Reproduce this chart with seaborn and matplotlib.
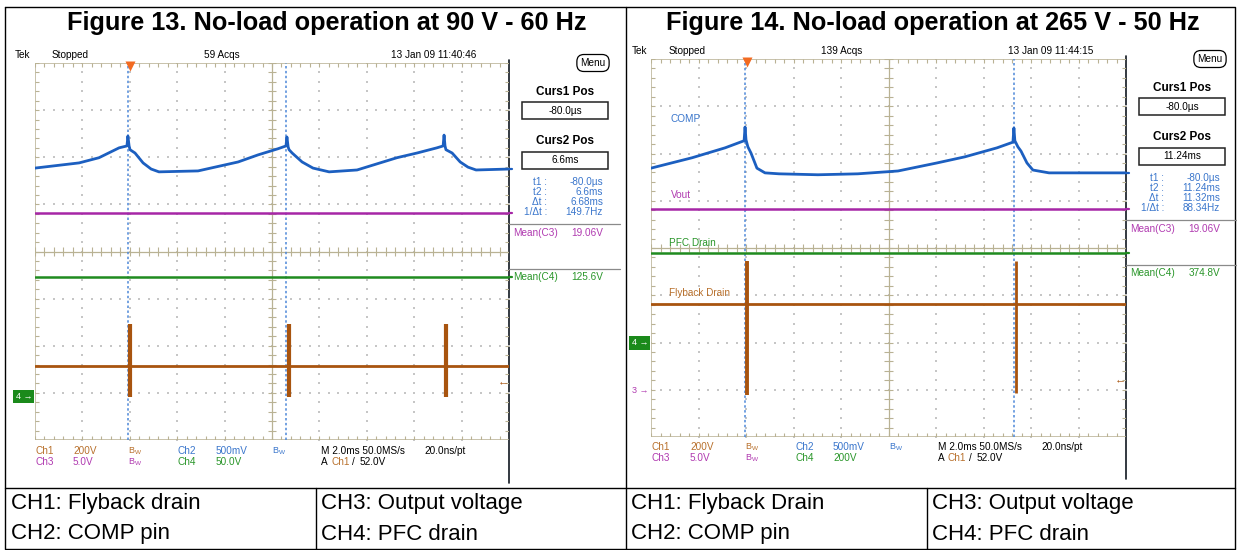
import numpy as np
import pandas as pd
import matplotlib
matplotlib.use('Agg')
import matplotlib.pyplot as plt
import matplotlib.transforms as mtransforms
from matplotlib.patches import Rectangle
import seaborn as sns

sns.set_theme(style='white')
plt.rcParams['font.family'] = ['Liberation Sans', 'DejaVu Sans']
plt.rcParams['axes.unicode_minus'] = False

W, H = 1237, 550

# Telas do osciloscopio: tempo em ms (2 ms/div, 10 div), amplitude em divisoes (-4 a 4)
tempo_tela = [0, 20]

# Figure 13 - 90 V / 60 Hz
f13_comp_t = [0.00, 1.86, 2.70, 3.55, 3.88, 3.92, 3.97, 4.01, 4.22, 4.56, 4.90, 5.23,
              6.88, 8.57, 9.41, 10.25, 10.59, 10.63, 10.68, 10.72, 10.85, 11.27, 11.73,
              12.41, 13.59, 15.27, 16.12, 16.96, 17.22, 17.26, 17.30, 17.34, 17.60,
              17.94, 18.27, 18.61, 20.00]
f13_comp_div = [1.77, 1.88, 1.99, 2.20, 2.24, 2.45, 2.24, 2.16, 2.09, 1.88, 1.75, 1.69,
                1.71, 1.90, 2.05, 2.18, 2.24, 2.43, 2.22, 2.16, 2.09, 1.90, 1.77,
                1.69, 1.73, 1.99, 2.09, 2.20, 2.24, 2.47, 2.24, 2.16, 2.09,
                1.90, 1.79, 1.73, 1.75]
f13_vout_div = 0.81
f13_pfc_div = -0.55
f13_flyback_div = -2.43
f13_spike_t = [4.01, 10.72, 17.34]
f13_spike_top = [-1.54, -1.54, -1.54]
f13_spike_bottom = [-3.09, -3.09, -3.09]
f13_curs1 = 3.92
f13_delta = 6.68
f13_ref4 = -3.08
f13_trig = -2.76

# Figure 14 - 265 V / 50 Hz
f14_comp_t = [0.00, 1.73, 3.12, 3.92, 3.96, 4.00, 4.08, 4.21, 4.46, 4.80, 5.39, 7.03,
              8.71, 10.40, 12.04, 13.22, 14.57, 15.24, 15.28, 15.32, 15.45, 15.58,
              15.83, 16.08, 16.76, 20.00]
f14_comp_div = [1.69, 1.91, 2.12, 2.27, 2.56, 2.29, 2.14, 2.01, 1.69, 1.59, 1.57, 1.55,
                1.57, 1.63, 1.80, 1.93, 2.12, 2.24, 2.54, 2.27, 2.14, 2.05,
                1.80, 1.65, 1.59, 1.59]
f14_vout_div = 0.83
f14_pfc_div = -0.11
f14_flyback_div = -1.19
f14_spike_t = [4.04, 15.36]
f14_spike_top = [-0.28, -0.28]
f14_spike_bottom = [-3.11, -3.07]
f14_curs1 = 3.96
f14_delta = 11.32
f14_ref4 = -2.01
f14_ref3 = -3.02
f14_trig = -2.77

# textos das telas
f13_header = ['Tek', 'Stopped', '59 Acqs', '13 Jan 09 11:40:46']
f14_header = ['Tek', 'Stopped', '139 Acqs', '13 Jan 09 11:44:15']
f13_cursores = ['-80.0µs', '6.6ms', '-80.0µs', '6.6ms', '6.68ms', '149.7Hz']
f14_cursores = ['-80.0µs', '11.24ms', '-80.0µs', '11.24ms', '11.32ms', '88.34Hz']
f13_medias = ['19.06V', '125.6V']
f14_medias = ['19.06V', '374.8V']
f13_escalas = ['200V', '500mV', '5.0V', '50.0V']
f14_escalas = ['200V', '500mV', '5.0V', '200V']
titulos = ['Figure 13. No-load operation at 90 V - 60 Hz',
           'Figure 14. No-load operation at 265 V - 50 Hz']
legenda_esq = ['CH1: Flyback drain', 'CH2: COMP pin', 'CH3: Output voltage', 'CH4: PFC drain']
legenda_dir = ['CH1: Flyback Drain', 'CH2: COMP pin', 'CH3: Output voltage', 'CH4: PFC drain']

COR_CH1, COR_CH2, COR_CH3, COR_CH4 = '#a8540f', '#1c5fc0', '#a626a6', '#1f8b1f'
TXT_CH1, TXT_CH2, TXT_CH3, TXT_CH4 = '#b8702c', '#3a76cc', '#b03ab0', '#2a962a'
GRAT = '#b9b294'
PONTO = '#c6c6c6'
CURSOR = '#4d88d8'


def graticula(ax):
    # grade pontilhada a cada divisao, pontos a cada 1/5 div
    gy = np.linspace(-4, 4, 41)
    gx = np.linspace(0, 20, 51)
    for k in [2, 4, 6, 8, 12, 14, 16, 18]:
        ax.scatter(np.full(gy.size, k), gy, s=1.2, color=PONTO, marker='s', linewidths=0, zorder=1)
    for k in [-3, -2, -1, 1, 2, 3]:
        ax.scatter(gx, np.full(gx.size, k), s=1.2, color=PONTO, marker='s', linewidths=0, zorder=1)
    ax.plot([0, 0, 20], [-4, 4, 4], color=GRAT, lw=1.1, zorder=1)
    ax.plot([0, 20], [-4, -4], color=GRAT, lw=1.1, zorder=1)
    ax.plot([10, 10], [-4, 4], color=GRAT, lw=0.9, zorder=1)
    ax.plot([0, 20], [0, 0], color=GRAT, lw=0.9, zorder=1)
    hx, hy = 0.17, 0.085
    ax.vlines(gx, 4 - hy, 4, color=GRAT, lw=0.8, zorder=1)
    ax.vlines(gx, -4, -4 + hy, color=GRAT, lw=0.8, zorder=1)
    ax.vlines(gx, -hy, hy, color=GRAT, lw=0.8, zorder=1)
    ax.hlines(gy, 0, hx, color=GRAT, lw=0.8, zorder=1)
    ax.hlines(gy, 20 - hx, 20, color=GRAT, lw=0.8, zorder=1)
    ax.hlines(gy, 10 - hx, 10 + hx, color=GRAT, lw=0.8, zorder=1)


def tela(fig, caixa, comp_t, comp_div, vout, pfc, flyback, spk_t, spk_top, spk_bot, spk_lw,
         curs1, delta, trig):
    x0, y0, x1, y1 = caixa
    ax = fig.add_axes([x0 / W, 1 - y1 / H, (x1 - x0) / W, (y1 - y0) / H])
    ax.set_xlim(0, 20)
    ax.set_ylim(-4, 4)
    ax.axis('off')
    graticula(ax)

    # cursores
    ax.vlines([curs1, curs1 + delta], -4, 4, colors=CURSOR, lw=1.1,
              linestyles=(0, (1.6, 1.6)), zorder=2)
    ax.plot(curs1 + 0.08, 3.93, marker='v', color='#f26a21', ms=7, mec='none',
            clip_on=False, zorder=6)

    # canais
    sns.lineplot(x=tempo_tela, y=[pfc, pfc], ax=ax, color=COR_CH4, linewidth=1.8, zorder=3)
    sns.lineplot(x=tempo_tela, y=[vout, vout], ax=ax, color=COR_CH3, linewidth=1.8, zorder=3)
    sns.lineplot(x=tempo_tela, y=[flyback, flyback], ax=ax, color=COR_CH1, linewidth=2.0, zorder=3)
    ax.vlines(spk_t, spk_bot, spk_top, colors=COR_CH1, lw=spk_lw, zorder=4)
    sns.lineplot(x=comp_t, y=comp_div, ax=ax, color=COR_CH2, linewidth=2.0,
                 sort=False, estimator=None, zorder=5)

    # marcas de nivel na borda direita
    for nivel, cor in [(comp_div[-1], COR_CH2), (vout, COR_CH3), (pfc, COR_CH4)]:
        ax.plot([20, 20.14], [nivel, nivel], color=cor, lw=1.6, clip_on=False, zorder=6)

    # seta do nivel de trigger
    ax.text(19.75, trig, '←', color=COR_CH1, fontsize=8, ha='center', va='center', zorder=6)
    ax.set_xlabel('')
    ax.set_ylabel('')
    return ax


fig = plt.figure(figsize=(W / 100, H / 100), dpi=100)
bg = fig.add_axes([0, 0, 1, 1])
bg.set_xlim(0, W)
bg.set_ylim(H, 0)
bg.axis('off')


def txt(x, y, s, cor='black', size=7.2, **kw):
    bg.text(x, y, s, color=cor, fontsize=size, va='center', **kw)


# tabela externa
bg.plot([5, 1235, 1235, 5, 5], [7, 7, 549, 549, 7], color='black', lw=1.0)
bg.plot([626, 626], [7, 549], color='black', lw=1.0)
bg.plot([5, 1235], [488, 488], color='black', lw=1.0)
bg.plot([316, 316], [488, 549], color='black', lw=1.0)
bg.plot([927, 927], [488, 549], color='black', lw=1.0)

txt(327, 23, titulos[0], size=18.2, weight='bold', ha='center')
txt(933, 23, titulos[1], size=18.2, weight='bold', ha='center')

for (xa, xb), leg in [((11, 321), legenda_esq), ((631, 932), legenda_dir)]:
    txt(xa, 504, leg[0], size=16)
    txt(xa, 534, leg[1], size=16)
    txt(xb, 504, leg[2], size=16)
    txt(xb, 534, leg[3], size=16)

# telas
ax13 = tela(fig, (35, 63, 509, 440), f13_comp_t, f13_comp_div, f13_vout_div, f13_pfc_div,
            f13_flyback_div, f13_spike_t, f13_spike_top, f13_spike_bottom, 3.0,
            f13_curs1, f13_delta, f13_trig)
ax14 = tela(fig, (651, 59, 1126, 437), f14_comp_t, f14_comp_div, f14_vout_div, f14_pfc_div,
            f14_flyback_div, f14_spike_t, f14_spike_top, f14_spike_bottom, [2.8, 2.0],
            f14_curs1, f14_delta, f14_trig)

# marcadores de referencia a esquerda
for ax, nivel in [(ax13, f13_ref4), (ax14, f14_ref4)]:
    tr = mtransforms.blended_transform_factory(ax.transAxes, ax.transData)
    ax.text(-0.006, nivel, '4 →', transform=tr, ha='right', va='center', color='white',
            fontsize=6.5, clip_on=False,
            bbox=dict(boxstyle='square,pad=0.25', fc='#1b8a1b', ec='none'))
tr14 = mtransforms.blended_transform_factory(ax14.transAxes, ax14.transData)
ax14.text(-0.006, f14_ref3, '3 →', transform=tr14, ha='right', va='center', color=TXT_CH3,
          fontsize=6.5, clip_on=False)

# rotulos dos canais na figura 14
ax14.text(0.84, 2.73, 'COMP', color=TXT_CH2, fontsize=7.2, va='center')
ax14.text(0.84, 1.12, 'Vout', color=TXT_CH3, fontsize=7.2, va='center')
ax14.text(0.76, 0.11, 'PFC Drain', color=TXT_CH4, fontsize=7.2, va='center')
ax14.text(0.76, -0.95, 'Flyback Drain', color=TXT_CH1, fontsize=7.2, va='center')

BW = r'$\mathregular{B_W}$'

for dx, dy, xr, header, curs, medias, esc in [
        (0, 0, 509, f13_header, f13_cursores, f13_medias, f13_escalas),
        (617, -4, 1126, f14_header, f14_cursores, f14_medias, f14_escalas)]:
    # cabecalho
    txt(15 + dx, 55 + dy, header[0])
    txt(52 + dx, 55 + dy, header[1])
    txt(204 + dx, 55 + dy, header[2])
    txt(391 + dx, 55 + dy, header[3])
    # borda direita da tela
    bg.plot([xr, xr], [60 + dy, 483 + dy], color='#101820', lw=1.2)
    # botao menu
    txt(593 + dx, 63 + dy, 'Menu', ha='center',
        bbox=dict(boxstyle='round,pad=0.35,rounding_size=0.7', fc='white', ec='black', lw=0.9))
    # painel de cursores
    cx = 565 + dx
    txt(cx, 92 + dy, 'Curs1 Pos', size=8.5, weight='bold', ha='center')
    bg.add_patch(Rectangle((522 + dx, 102 + dy), 86, 17, fill=False, ec='#222222', lw=1.1))
    txt(cx, 111 + dy, curs[0], ha='center')
    txt(cx, 141 + dy, 'Curs2 Pos', size=8.5, weight='bold', ha='center')
    bg.add_patch(Rectangle((522 + dx, 152 + dy), 86, 17, fill=False, ec='#222222', lw=1.1))
    txt(cx, 160 + dy, curs[1], ha='center')
    for i, rot in enumerate(['t1 :', 't2 :', 'Δt :', '1/Δt :']):
        txt(547 + dx, 182 + dy + 10 * i, rot, cor=TXT_CH2, ha='right')
        txt(603 + dx, 182 + dy + 10 * i, curs[2 + i], cor=TXT_CH2, ha='right')
    bg.plot([xr, 620 + dx], [224 + dy, 224 + dy], color='#8a8a8a', lw=0.9)
    bg.plot([xr, 620 + dx], [269 + dy, 269 + dy], color='#8a8a8a', lw=0.9)
    txt(xr + 4, 233 + dy, 'Mean(C3)', cor=TXT_CH3)
    txt(603 + dx, 233 + dy, medias[0], cor=TXT_CH3, ha='right')
    txt(xr + 4, 277 + dy, 'Mean(C4)', cor=TXT_CH4)
    txt(603 + dx, 277 + dy, medias[1], cor=TXT_CH4, ha='right')
    # escalas dos canais
    r1, r2 = 451 + dy, 462 + dy
    txt(35 + dx, r1, 'Ch1', cor=TXT_CH1)
    txt(73 + dx, r1, esc[0], cor=TXT_CH1)
    txt(128 + dx, r1, BW, cor=TXT_CH1, size=6.5)
    txt(178 + dx, r1, 'Ch2', cor=TXT_CH2)
    txt(216 + dx, r1, esc[1], cor=TXT_CH2)
    txt(272 + dx, r1, BW, cor=TXT_CH2, size=6.5)
    txt(321 + dx, r1, 'M 2.0ms 50.0MS/s')
    txt(424 + dx, r1, '20.0ns/pt')
    txt(35 + dx, r2, 'Ch3', cor=TXT_CH3)
    txt(73 + dx, r2, esc[2], cor=TXT_CH3)
    txt(128 + dx, r2, BW, cor=TXT_CH3, size=6.5)
    txt(178 + dx, r2, 'Ch4', cor=TXT_CH4)
    txt(216 + dx, r2, esc[3], cor=TXT_CH4)
    txt(321 + dx, r2, 'A')
    txt(331 + dx, r2, 'Ch1', cor=TXT_CH1)
    txt(352 + dx, r2, '/')
    txt(360 + dx, r2, '52.0V')

fig.savefig('out.png', dpi=100)
